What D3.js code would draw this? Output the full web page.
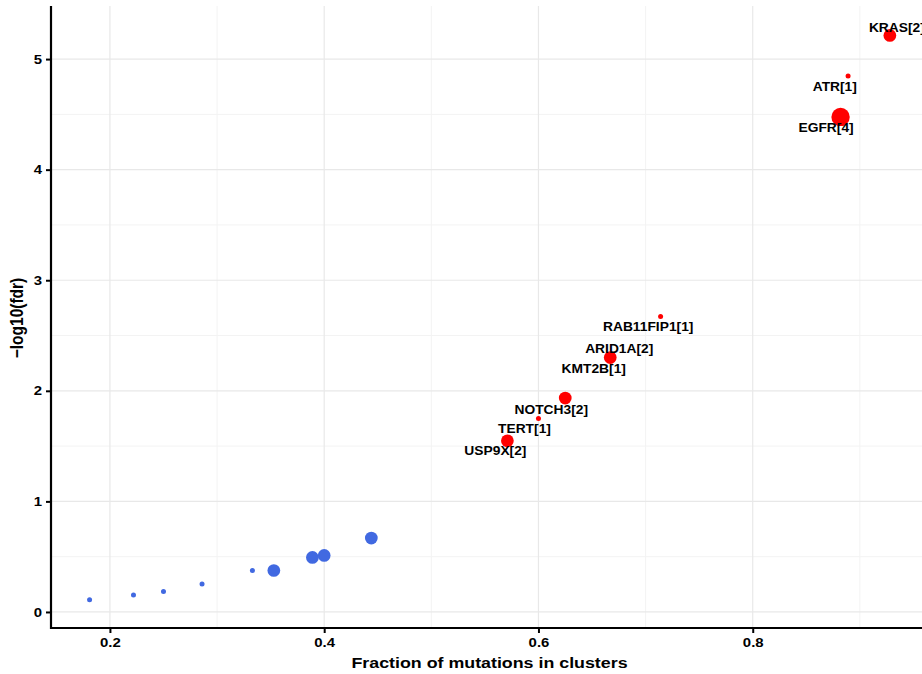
<!DOCTYPE html>
<html>
<head>
<meta charset="utf-8">
<script src="https://cdn.jsdelivr.net/npm/d3@7"></script>
<style>
  html, body { margin: 0; padding: 0; background: #fff; }
  svg { display: block; }
  text { font-family: "Liberation Sans", Arial, Helvetica, sans-serif; font-weight: bold; fill: #000; }
</style>
</head>
<body>
<svg id="chart" width="922" height="674"></svg>
<script>
// Per-gene cluster fraction, significance and mutation count
const geneNames   = ["", "", "", "", "", "", "", "", "",
                     "USP9X", "TERT", "NOTCH3", "KMT2B", "ARID1A", "RAB11FIP1", "EGFR", "ATR", "KRAS"];
const fraction    = [0.181, 0.222, 0.250, 0.286, 0.333, 0.353, 0.389, 0.400, 0.444,
                     0.571, 0.600, 0.625, 0.667, 0.667, 0.714, 0.882, 0.889, 0.928];
const negLog10Fdr = [0.110, 0.153, 0.185, 0.252, 0.375, 0.375, 0.493, 0.511, 0.668,
                     1.548, 1.750, 1.934, 2.300, 2.301, 2.672, 4.477, 4.848, 5.214];
const mutCount    = [1, 1, 1, 1, 1, 2, 2, 2, 2,
                     2, 1, 2, 1, 2, 1, 4, 1, 2];

// Tick values
const xTicks = [0.2, 0.4, 0.6, 0.8];
const yTicks = [0, 1, 2, 3, 4, 5];
const xMinor = [0.3, 0.5, 0.7, 0.9];
const yMinor = [0.5, 1.5, 2.5, 3.5, 4.5];

// Label placement relative to each point (px): [dx, dy to baseline]
const labelNudge = {
  USP9X: [-12, 14], TERT: [-14, 14.6], NOTCH3: [-14, 15.7], KMT2B: [-16.5, 15.6],
  ARID1A: [9, -4.4], RAB11FIP1: [-12.4, 14], EGFR: [-14.5, 14.7], ATR: [-13.3, 14.7],
  KRAS: [7, -3.8]
};

const sigThreshold = -Math.log10(0.05);
const STRETCH = 1.15; // horizontal glyph stretch

const points = fraction.map((f, i) => ({
  gene: geneNames[i], x: f, y: negLog10Fdr[i], n: mutCount[i]
}));

const svg = d3.select("#chart");
const plotLeft = 51, plotRight = 922, plotTop = 6, plotBottom = 628;

const x = d3.scaleLinear().domain([0.145, 0.958]).range([plotLeft, plotRight]);
const y = d3.scaleLinear().domain([-0.145, 5.48]).range([plotBottom, plotTop]);

// Point radius from mutation count (area-style mapping)
const nExtent = d3.extent(mutCount);
const rMin = 2.5, rMax = 9.2;
const r = n => rMin + (rMax - rMin) * Math.sqrt((n - nExtent[0]) / (nExtent[1] - nExtent[0]));

// Grid lines
const grid = svg.append("g");
grid.selectAll(".xminor").data(xMinor.filter(v => x(v) <= plotRight)).join("line")
  .attr("x1", d => x(d)).attr("x2", d => x(d)).attr("y1", plotTop).attr("y2", plotBottom)
  .attr("stroke", "#f3f3f3").attr("stroke-width", 1);
grid.selectAll(".yminor").data(yMinor).join("line")
  .attr("y1", d => y(d)).attr("y2", d => y(d)).attr("x1", plotLeft).attr("x2", plotRight)
  .attr("stroke", "#f3f3f3").attr("stroke-width", 1);
grid.selectAll(".xmajor").data(xTicks).join("line")
  .attr("x1", d => x(d)).attr("x2", d => x(d)).attr("y1", plotTop).attr("y2", plotBottom)
  .attr("stroke", "#e8e8e8").attr("stroke-width", 1.2);
grid.selectAll(".ymajor").data(yTicks).join("line")
  .attr("y1", d => y(d)).attr("y2", d => y(d)).attr("x1", plotLeft).attr("x2", plotRight)
  .attr("stroke", "#e8e8e8").attr("stroke-width", 1.2);

// Points
svg.append("g").selectAll("circle").data(points).join("circle")
  .attr("cx", d => x(d.x)).attr("cy", d => y(d.y)).attr("r", d => r(d.n))
  .attr("fill", d => d.y > sigThreshold ? "#ff0000" : "#4169e1");

// Gene labels
svg.append("g").selectAll("text").data(points.filter(d => d.gene)).join("text")
  .attr("text-anchor", "middle")
  .attr("font-size", 12)
  .attr("transform", d => {
    const [dx, dy] = labelNudge[d.gene];
    return `translate(${x(d.x) + dx},${y(d.y) + dy}) scale(${STRETCH},1)`;
  })
  .text(d => `${d.gene}[${d.n}]`);

// Axes (ticks and labels from d3; the axis lines drawn as one L-shaped path)
const xAxis = svg.append("g").attr("transform", `translate(0,${plotBottom})`)
  .call(d3.axisBottom(x).tickValues(xTicks).tickFormat(d3.format(".1f")).tickSizeOuter(0).tickSize(5).tickPadding(5));
const yAxis = svg.append("g").attr("transform", `translate(${plotLeft},0)`)
  .call(d3.axisLeft(y).tickValues(yTicks).tickFormat(d3.format("d")).tickSizeOuter(0).tickSize(5).tickPadding(4));

[xAxis, yAxis].forEach(g => {
  g.select(".domain").remove();
  g.selectAll(".tick line").attr("stroke", "#000").attr("stroke-width", 2);
  g.selectAll(".tick text").attr("font-size", 13).attr("fill", "#000")
    .style("font-family", "'Liberation Sans', Arial, sans-serif").style("font-weight", "bold");
});
xAxis.selectAll(".tick text").attr("transform", `scale(${STRETCH},1)`);
yAxis.selectAll(".tick text").attr("x", 0).attr("transform", `translate(-9,0) scale(${STRETCH},1)`);

svg.append("path")
  .attr("d", `M${plotLeft},${plotTop}V${plotBottom}H${plotRight}`)
  .attr("fill", "none").attr("stroke", "#000").attr("stroke-width", 2.2)
  .attr("stroke-linejoin", "miter");

// Axis titles
svg.append("text")
  .attr("text-anchor", "middle").attr("font-size", 15.5)
  .attr("transform", `translate(${(351 + 628) / 2},668) scale(${STRETCH},1)`)
  .text("Fraction of mutations in clusters");
svg.append("text")
  .attr("text-anchor", "middle").attr("font-size", 15.5)
  .attr("transform", `translate(22.5,${(plotTop + plotBottom) / 2 + 1}) scale(${STRETCH},1) rotate(-90)`)
  .text("\u2212log10(fdr)");
</script>
</body>
</html>
